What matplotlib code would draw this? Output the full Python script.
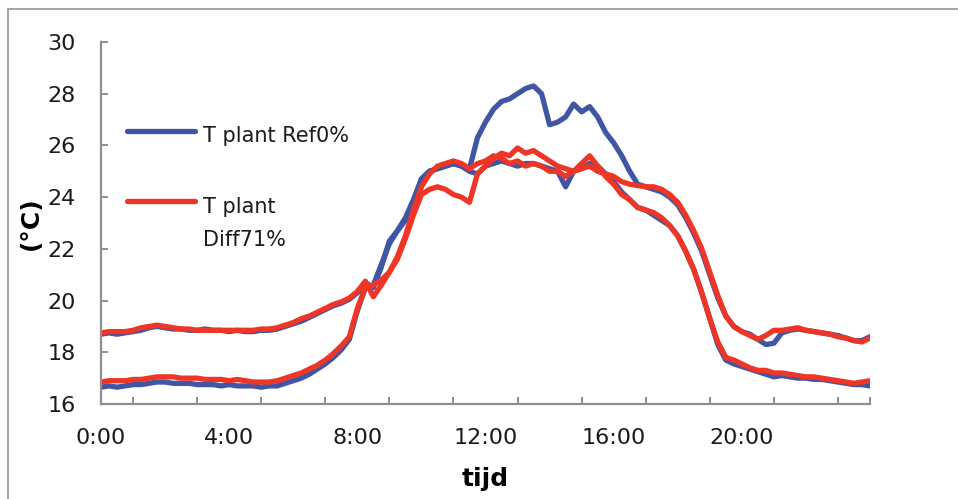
import numpy as np
import matplotlib
matplotlib.use("Agg")
import matplotlib.pyplot as plt
from matplotlib.lines import Line2D
from matplotlib.patches import Rectangle

# time of day in hours, one reading every 15 minutes
tijd_uur = np.arange(0, 24.25, 0.25)

# T plant Ref0%, day A (warm night, high midday peak)
ref_a = [18.70, 18.75, 18.70, 18.75, 18.80, 18.85, 18.95, 19.00, 18.95, 18.90, 18.90, 18.85,
         18.85, 18.90, 18.85, 18.85, 18.80, 18.85, 18.80, 18.80, 18.85, 18.85, 18.90, 19.00,
         19.10, 19.20, 19.35, 19.50, 19.65, 19.80, 19.90, 20.05, 20.30, 20.70, 20.50, 21.30,
         22.30, 22.70, 23.10, 23.80, 24.70, 25.00, 25.10, 25.20, 25.30, 25.20, 25.10, 26.30,
         26.90, 27.40, 27.70, 27.80, 28.00, 28.20, 28.30, 28.00, 26.80, 26.90, 27.10, 27.60,
         27.30, 27.50, 27.10, 26.50, 26.10, 25.60, 25.00, 24.50, 24.40, 24.30, 24.20, 24.00,
         23.70, 23.20, 22.60, 21.90, 21.00, 20.10, 19.40, 19.00, 18.80, 18.70, 18.50, 18.30,
         18.35, 18.75, 18.85, 18.90, 18.85, 18.80, 18.75, 18.70, 18.65, 18.55, 18.45, 18.45,
         18.60]

# T plant Ref0%, day B (cool night)
ref_b = [16.65, 16.70, 16.65, 16.70, 16.75, 16.75, 16.80, 16.85, 16.85, 16.80, 16.80, 16.80,
         16.75, 16.75, 16.75, 16.70, 16.75, 16.70, 16.70, 16.70, 16.65, 16.70, 16.70, 16.80,
         16.90, 17.00, 17.15, 17.35, 17.55, 17.80, 18.10, 18.50, 19.60, 20.50, 20.60, 21.40,
         22.20, 22.70, 23.20, 23.90, 24.70, 25.00, 25.10, 25.20, 25.30, 25.20, 25.00, 24.90,
         25.20, 25.30, 25.40, 25.30, 25.20, 25.30, 25.30, 25.20, 25.10, 25.00, 24.40, 25.00,
         25.10, 25.30, 25.20, 24.90, 24.60, 24.20, 23.90, 23.60, 23.50, 23.30, 23.10, 22.90,
         22.50, 21.90, 21.20, 20.30, 19.30, 18.30, 17.70, 17.55, 17.45, 17.35, 17.25, 17.15,
         17.05, 17.10, 17.05, 17.00, 17.00, 16.95, 16.95, 16.90, 16.85, 16.80, 16.75, 16.75,
         16.70]

# T plant Diff71%, day A
diff_a = [18.75, 18.80, 18.80, 18.80, 18.85, 18.95, 19.00, 19.05, 19.00, 18.95, 18.90, 18.90,
          18.85, 18.85, 18.85, 18.85, 18.85, 18.85, 18.85, 18.85, 18.90, 18.90, 18.95, 19.05,
          19.15, 19.30, 19.40, 19.55, 19.70, 19.85, 19.95, 20.10, 20.35, 20.75, 20.15, 20.60,
          21.10, 21.60, 22.40, 23.30, 24.10, 24.30, 24.40, 24.30, 24.10, 24.00, 23.80, 24.90,
          25.20, 25.50, 25.70, 25.60, 25.90, 25.70, 25.80, 25.60, 25.40, 25.20, 25.10, 25.00,
          25.10, 25.20, 25.00, 24.90, 24.80, 24.60, 24.50, 24.45, 24.40, 24.40, 24.30, 24.10,
          23.80, 23.30, 22.70, 22.00, 21.10, 20.20, 19.40, 19.00, 18.80, 18.65, 18.50, 18.65,
          18.85, 18.85, 18.90, 18.95, 18.85, 18.80, 18.75, 18.70, 18.60, 18.55, 18.45, 18.40,
          18.55]

# T plant Diff71%, day B
diff_b = [16.85, 16.90, 16.90, 16.90, 16.95, 16.95, 17.00, 17.05, 17.05, 17.05, 17.00, 17.00,
          17.00, 16.95, 16.95, 16.95, 16.90, 16.95, 16.90, 16.85, 16.85, 16.85, 16.90, 17.00,
          17.10, 17.20, 17.35, 17.50, 17.70, 17.95, 18.25, 18.60, 19.70, 20.50, 20.60, 20.80,
          21.10, 21.70, 22.50, 23.50, 24.40, 24.90, 25.20, 25.30, 25.40, 25.30, 25.10, 25.30,
          25.40, 25.60, 25.50, 25.30, 25.40, 25.20, 25.30, 25.20, 25.00, 25.00, 24.80, 25.00,
          25.30, 25.60, 25.20, 24.80, 24.50, 24.10, 23.90, 23.60, 23.50, 23.40, 23.20, 22.90,
          22.50, 21.90, 21.20, 20.30, 19.30, 18.40, 17.80, 17.70, 17.55, 17.40, 17.30, 17.30,
          17.20, 17.20, 17.15, 17.10, 17.05, 17.05, 17.00, 16.95, 16.90, 16.85, 16.80, 16.85,
          16.90]

hour_labels = ["0:00", "4:00", "8:00", "12:00", "16:00", "20:00"]

blue = '#3f55a5'
red = '#ef3526'
grey = '#8e8e8e'

fig = plt.figure(figsize=(9.58, 4.99), dpi=100)
ax = fig.add_axes([101 / 958, 95 / 499, 769 / 958, 362 / 499])

lw = 3.8
ax.plot(tijd_uur, ref_a, color=blue, lw=lw, solid_joinstyle='round')
ax.plot(tijd_uur, ref_b, color=blue, lw=lw, solid_joinstyle='round')
ax.plot(tijd_uur, diff_a, color=red, lw=lw, solid_joinstyle='round')
ax.plot(tijd_uur, diff_b, color=red, lw=lw, solid_joinstyle='round')

ax.set_xlim(0, 24)
ax.set_ylim(16, 30)
ax.set_yticks(np.arange(16, 31, 2))
ax.set_xticks(np.arange(0, 24, 4))
ax.set_xticklabels(hour_labels)
ax.set_xticks(list(np.arange(1, 24, 2)) + [24], minor=True)

for s in ['top', 'right']:
    ax.spines[s].set_visible(False)
for s in ['left', 'bottom']:
    ax.spines[s].set_color(grey)
    ax.spines[s].set_linewidth(1.6)

ax.tick_params(axis='y', direction='in', length=5, width=1.4, color=grey,
               labelsize=16, labelcolor='#1a1a1a', pad=18)
ax.tick_params(axis='x', which='major', length=0, labelsize=16,
               labelcolor='#1a1a1a', pad=17)
ax.tick_params(axis='x', which='minor', direction='in', length=5, width=1.4, color=grey)

ax.set_ylabel('(°C)', fontsize=18, fontweight='bold')
ax.yaxis.set_label_coords(-0.076, 0.5)
ax.set_xlabel('tijd', fontsize=18, fontweight='bold', va='top')
ax.xaxis.set_label_coords(0.5, -0.175)

# legend drawn by hand, inside the plot area
def ax_x(px):
    return (px - 101) / 769

def ax_y(py):
    return (404 - py) / 362

ax.add_line(Line2D([ax_x(127), ax_x(195)], [ax_y(131), ax_y(131)], color=blue, lw=lw,
                   transform=ax.transAxes, solid_capstyle='round'))
ax.add_line(Line2D([ax_x(127), ax_x(195)], [ax_y(201), ax_y(201)], color=red, lw=lw,
                   transform=ax.transAxes, solid_capstyle='round'))
ax.text(ax_x(203), ax_y(142), 'T plant Ref0%', transform=ax.transAxes, fontsize=15,
        va='baseline', color='#1a1a1a')
ax.text(ax_x(203), ax_y(213), 'T plant', transform=ax.transAxes, fontsize=15,
        va='baseline', color='#1a1a1a')
ax.text(ax_x(203), ax_y(246), 'Diff71%', transform=ax.transAxes, fontsize=15,
        va='baseline', color='#1a1a1a')

# chart-area border
fig.patches.append(Rectangle((8 / 958, -0.2), 1.2, 1.2 - 9 / 499, transform=fig.transFigure,
                             fill=False, edgecolor='#a6a6a6', lw=1.5))

fig.savefig("out.png", dpi=100)
